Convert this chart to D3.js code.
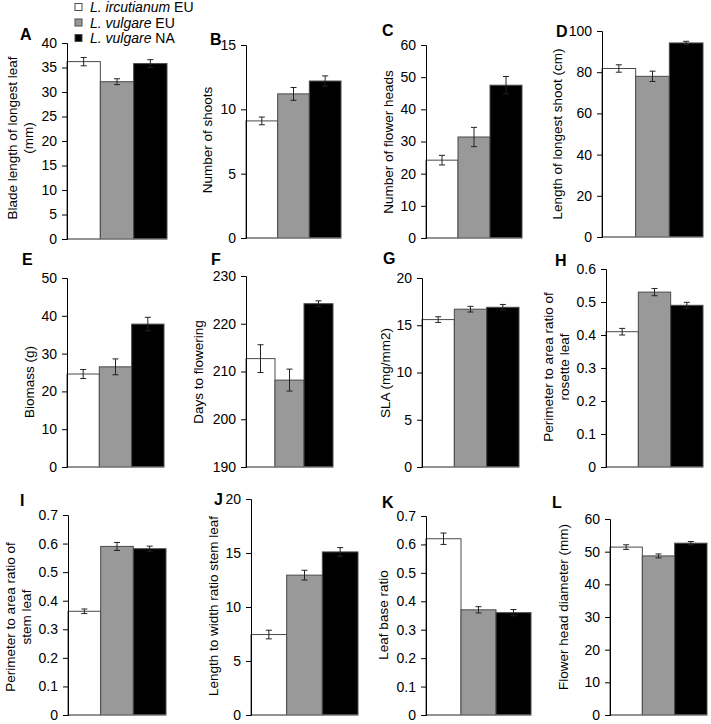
<!DOCTYPE html>
<html><head><meta charset="utf-8">
<script src="https://cdn.jsdelivr.net/npm/d3@7"></script>
<style>
body{margin:0;background:#fff;}
svg{display:block;font-family:"Liberation Sans",Arial,sans-serif;}
</style></head>
<body>
<svg id="chart" width="711" height="724"></svg>
<script>
// ---------- DATA ----------
const groups = ["L. ircutianum EU", "L. vulgare EU", "L. vulgare NA"];
const groupItalic = ["L. ircutianum", "L. vulgare", "L. vulgare"];
const groupSuffix = ["EU", "EU", "NA"];
const panelLetters = ["A","B","C","D","E","F","G","H","I","J","K","L"];
const yTitles = [
  ["Blade length of longest leaf","(mm)"],
  ["Number of shoots"],
  ["Number of flower heads"],
  ["Length of longest shoot (cm)"],
  ["Biomass (g)"],
  ["Days to flowering"],
  ["SLA (mg/mm2)"],
  ["Perimeter to area ratio of","rosette leaf"],
  ["Perimeter to area ratio of","stem leaf"],
  ["Length to width ratio stem leaf"],
  ["Leaf base ratio"],
  ["Flower head diameter (mm)"]
];
const means = [
  [36.2, 32.1, 35.8],
  [9.1, 11.2, 12.2],
  [24.2, 31.4, 47.5],
  [81.8, 78.0, 94.2],
  [24.6, 26.5, 37.8],
  [212.7, 208.2, 224.2],
  [15.6, 16.7, 16.9],
  [0.41, 0.53, 0.49],
  [0.363, 0.59, 0.582],
  [7.45, 12.95, 15.1],
  [0.62, 0.37, 0.36],
  [51.4, 48.7, 52.6]
];
const errors = [
  [0.85, 0.6, 0.8],
  [0.3, 0.5, 0.4],
  [1.5, 3.0, 2.7],
  [1.8, 2.5, 0.8],
  [1.2, 2.1, 1.8],
  [2.9, 2.3, 0.6],
  [0.3, 0.3, 0.3],
  [0.01, 0.011, 0.009],
  [0.008, 0.014, 0.009],
  [0.4, 0.45, 0.4],
  [0.02, 0.011, 0.011],
  [0.7, 0.6, 0.5]
];
const yDomains = [[0,40],[0,15],[0,60],[0,100],[0,50],[190,230],[0,20],[0,0.6],[0,0.7],[0,20],[0,0.7],[0,60]];
const yTicks = [
  [0,5,10,15,20,25,30,35,40],
  [0,5,10,15],
  [0,10,20,30,40,50,60],
  [0,20,40,60,80,100],
  [0,10,20,30,40,50],
  [190,200,210,220,230],
  [0,5,10,15,20],
  [0,0.1,0.2,0.3,0.4,0.5,0.6],
  [0,0.1,0.2,0.3,0.4,0.5,0.6,0.7],
  [0,5,10,15,20],
  [0,0.1,0.2,0.3,0.4,0.5,0.6,0.7],
  [0,10,20,30,40,50,60]
];

// ---------- LAYOUT (positions only) ----------
const layout = [
  {x0:67, x1:167, yTop:43, yBot:239, lx:[12,28], ly:138, tx:20, ty:40},
  {x0:246,x1:341, yTop:45, yBot:238, lx:[207], ly:140, tx:210, ty:45},
  {x0:426,x1:522, yTop:45, yBot:238, lx:[388], ly:142, tx:382, ty:36},
  {x0:602,x1:703, yTop:31, yBot:237, lx:[557], ly:134, tx:556, ty:37},
  {x0:67, x1:164, yTop:278,yBot:467, lx:[29], ly:382, tx:22, ty:265},
  {x0:246,x1:333, yTop:276,yBot:467, lx:[198], ly:372, tx:211, ty:265},
  {x0:422,x1:519, yTop:278,yBot:467, lx:[385], ly:373, tx:383, ty:264},
  {x0:606,x1:703, yTop:269,yBot:467, lx:[548,564], ly:367, tx:555, ty:266},
  {x0:68, x1:166, yTop:515,yBot:715, lx:[10,26], ly:617, tx:20, ty:506},
  {x0:251,x1:358, yTop:499,yBot:715, lx:[213], ly:606, tx:214, ty:505},
  {x0:426,x1:531, yTop:516,yBot:715, lx:[383], ly:615, tx:382, ty:508},
  {x0:610,x1:707, yTop:519,yBot:715, lx:[563], ly:607, tx:552, ty:508}
];
const fills = ["#ffffff", "#999999", "#000000"];

const svg = d3.select("#chart");

panelLetters.forEach((letter, i) => {
  const L = layout[i];
  const g = svg.append("g");
  const x = d3.scaleBand().domain(groups).range([L.x0, L.x1]).padding(0);
  const y = d3.scaleLinear().domain(yDomains[i]).range([L.yBot, L.yTop]);
  const base = yDomains[i][0];

  g.selectAll("rect.bar").data(groups).enter().append("rect")
    .attr("x", d => x(d))
    .attr("width", x.bandwidth())
    .attr("y", (d, j) => y(means[i][j]))
    .attr("height", (d, j) => y(base) - y(means[i][j]))
    .attr("fill", (d, j) => fills[j])
    .attr("stroke", "#4a4a4a")
    .attr("stroke-width", 1);

  const eb = g.selectAll("g.eb").data(groups).enter().append("g")
    .attr("stroke", "#222").attr("stroke-width", 1);
  eb.append("line")
    .attr("x1", d => x(d) + x.bandwidth()/2).attr("x2", d => x(d) + x.bandwidth()/2)
    .attr("y1", (d,j) => y(means[i][j] - errors[i][j]))
    .attr("y2", (d,j) => y(means[i][j] + errors[i][j]));
  [-1, 1].forEach(s => {
    eb.append("line")
      .attr("x1", d => x(d) + x.bandwidth()/2 - 3).attr("x2", d => x(d) + x.bandwidth()/2 + 3)
      .attr("y1", (d,j) => y(means[i][j] + s*errors[i][j]))
      .attr("y2", (d,j) => y(means[i][j] + s*errors[i][j]));
  });

  g.append("line").attr("x1", L.x0).attr("x2", L.x1)
    .attr("y1", y(base)).attr("y2", y(base))
    .attr("stroke", "#808080").attr("stroke-width", 1);

  const fmt = yDomains[i][1] < 1 ? (v => v === 0 ? "0" : d3.format(".1f")(v)) : d3.format("d");
  const ax = g.append("g").attr("transform", `translate(${L.x0},0)`)
    .call(d3.axisLeft(y).tickValues(yTicks[i]).tickFormat(fmt).tickSizeOuter(0).tickSize(5).tickPadding(5));
  ax.select(".domain").attr("stroke", "#000");
  ax.selectAll(".tick line").attr("stroke", "#000");
  ax.selectAll(".tick text").attr("font-size", 14).attr("fill", "#000")
    .attr("font-family", "'Liberation Sans', Arial, sans-serif");

  yTitles[i].forEach((t, k) => {
    g.append("text")
      .attr("transform", `translate(${L.lx[k]},${L.ly}) rotate(-90)`)
      .attr("text-anchor", "middle").attr("dy", "0.35em")
      .attr("font-size", 13.5).attr("fill", "#000")
      .text(t);
  });

  g.append("text").attr("x", L.tx).attr("y", L.ty)
    .attr("font-size", 16).attr("font-weight", "bold").attr("fill", "#000")
    .text(letter);
});

const leg = svg.append("g");
groups.forEach((gname, j) => {
  const yy = 7 + j * 15.5;
  leg.append("rect").attr("x", 75).attr("y", yy - 3.5).attr("width", 7).attr("height", 7)
    .attr("fill", fills[j]).attr("stroke", "#4a4a4a").attr("stroke-width", 1);
  const t = leg.append("text").attr("x", 90).attr("y", yy + 5).attr("font-size", 14).attr("fill", "#000");
  t.append("tspan").attr("font-style", "italic").text(groupItalic[j]);
  t.append("tspan").text(" " + groupSuffix[j]);
});
</script>
</body></html>
